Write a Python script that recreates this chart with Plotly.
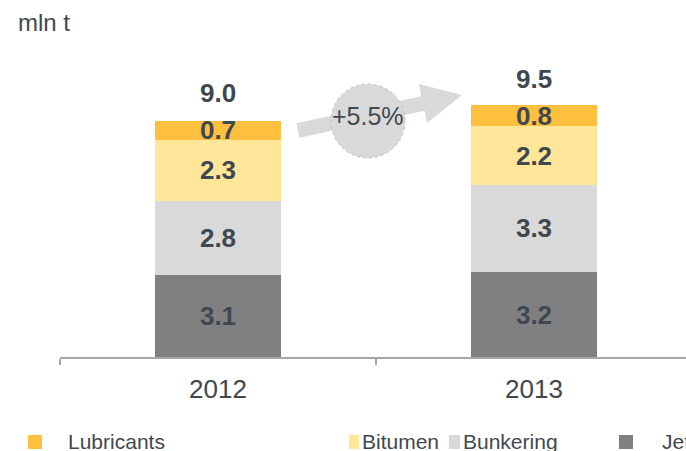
import plotly.graph_objects as go

# ---- data ----
years = ["2012", "2013"]
series_names = ["Jet", "Bunkering", "Bitumen", "Lubricants"]
jet = [3.1, 3.2]
bunkering = [2.8, 3.3]
bitumen = [2.3, 2.2]
lubricants = [0.7, 0.8]
totals = [9.0, 9.5]
growth_label = "+5.5%"
unit_label = "mln t"
legend_order = ["Lubricants", "Bitumen", "Bunkering", "Jet"]

colors = {
    "Jet": "#808080",
    "Bunkering": "#D9D9D9",
    "Bitumen": "#FFE699",
    "Lubricants": "#FFBF3F",
}
TXT = "#3F4850"
FONT = "Liberation Sans, Arial, sans-serif"

W, H = 686, 451
ML, MR, MT, MB = 60, 0, 0, 94
PW, PH = W - ML - MR, H - MT - MB


def px(x):
    return (x - ML) / PW


def py(y):
    return (H - MB - y) / PH


values = {"Jet": jet, "Bunkering": bunkering, "Bitumen": bitumen, "Lubricants": lubricants}

fig = go.Figure()
for name in series_names:
    fig.add_trace(go.Bar(
        x=years, y=values[name], name=name,
        marker=dict(color=colors[name], line=dict(width=0)),
        text=[f"{v:.1f}" for v in values[name]],
        textposition="inside", insidetextanchor="middle",
        textangle=0, constraintext="none",
        textfont=dict(family=FONT, size=26, color=TXT, weight="bold"),
        showlegend=False, hoverinfo="skip",
    ))

annotations = []
for i, t in enumerate(totals):
    annotations.append(dict(
        x=i, y=t, xref="x", yref="y", text=f"<b>{t:.1f}</b>",
        showarrow=False, yanchor="middle", yshift=26,
        font=dict(family=FONT, size=26, color=TXT),
    ))

annotations.append(dict(
    x=px(18), y=py(23), xref="paper", yref="paper", text=unit_label,
    xanchor="left", yanchor="middle", showarrow=False, xshift=-2,
    font=dict(family=FONT, size=24, color=TXT),
))

shapes = []
# growth arrow
arrow_pts = [(296.4, 123.2), (421.3, 96.2), (418.7, 84.0), (462, 95),
             (427.1, 123.0), (424.5, 110.8), (299.6, 137.8)]
path = "M " + " L ".join(f"{px(a)},{py(b)}" for a, b in arrow_pts) + " Z"
shapes.append(dict(type="path", path=path, xref="paper", yref="paper",
                   fillcolor="#D9D9D9", line=dict(width=0), layer="above"))
shapes.append(dict(type="circle", xref="paper", yref="paper",
                   x0=px(331), x1=px(405), y0=py(158), y1=py(84),
                   fillcolor="#D9D9D9", line=dict(color="#BFBFBF", width=1, dash="dot"),
                   layer="above"))
annotations.append(dict(
    x=px(368), y=py(116), xref="paper", yref="paper", text=growth_label,
    showarrow=False, xanchor="center", yanchor="middle",
    font=dict(family=FONT, size=25, color=TXT),
))

# legend row
sq_x = {"Lubricants": (28, 42), "Bitumen": (349, 359), "Bunkering": (449, 460), "Jet": (619, 633)}
tx_x = {"Lubricants": 68, "Bitumen": 362, "Bunkering": 463, "Jet": 662}
for name in legend_order:
    x0, x1 = sq_x[name]
    shapes.append(dict(type="rect", xref="paper", yref="paper",
                       x0=px(x0), x1=px(x1), y0=py(449), y1=py(435),
                       fillcolor=colors[name], line=dict(width=0)))
    annotations.append(dict(
        x=px(tx_x[name]), y=py(441), xref="paper", yref="paper", text=name,
        showarrow=False, xanchor="left", yanchor="middle", xshift=-2,
        font=dict(family=FONT, size=21, color=TXT),
    ))

fig.update_layout(
    width=W, height=H, autosize=False,
    margin=dict(l=ML, r=MR, t=MT, b=MB, pad=0),
    barmode="stack", bargap=0.6,
    plot_bgcolor="white", paper_bgcolor="white",
    font=dict(family=FONT, color=TXT),
    hovermode=False,
    xaxis=dict(
        type="category", range=[-0.5, 1.5 - 6 / 316],
        showline=True, linecolor="#A6A6A6", linewidth=1.5,
        ticks="outside", tickson="boundaries", ticklen=6, tickcolor="#A6A6A6", tickwidth=1.5,
        ticklabelstandoff=8,
        tickfont=dict(family=FONT, size=26, color=TXT),
        showgrid=False, zeroline=False,
    ),
    yaxis=dict(range=[0, (H - MB) / 26.5], visible=False, showgrid=False, zeroline=False),
    annotations=annotations,
    shapes=shapes,
)

fig.write_html("out.html", config={"displayModeBar": False},
               post_script="document.body.style.margin='0';")
